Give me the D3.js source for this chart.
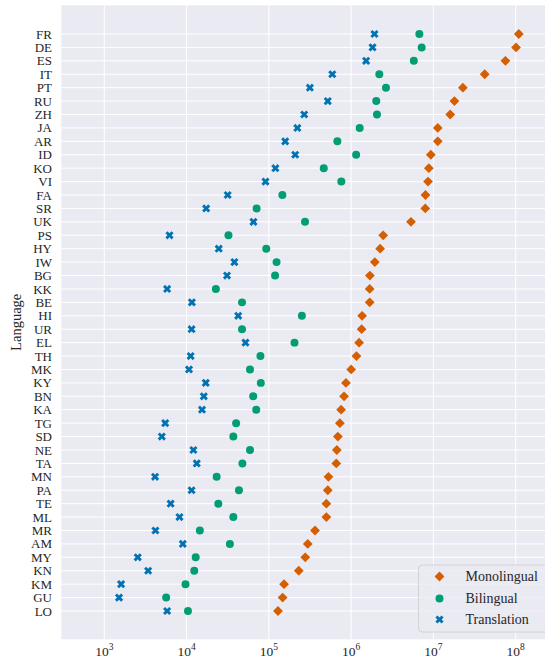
<!DOCTYPE html>
<html><head><meta charset="utf-8">
<script src="https://cdn.jsdelivr.net/npm/d3@7"></script>
<style>body{margin:0;background:#fff}svg{display:block}</style>
</head><body>
<script>
const languages = ["FR","DE","ES","IT","PT","RU","ZH","JA","AR","ID","KO","VI","FA","SR","UK","PS","HY","IW","BG","KK","BE","HI","UR","EL","TH","MK","KY","BN","KA","TG","SD","NE","TA","MN","PA","TE","ML","MR","AM","MY","KN","KM","GU","LO"];
const monolingual = [1.09e8,1.01e8,7.5e7,4.2e7,2.28e7,1.8e7,1.6e7,1.13e7,1.13e7,9.3e6,8.8e6,8.6e6,8.0e6,7.96e6,5.34e6,2.45e6,2.25e6,1.94e6,1.69e6,1.68e6,1.68e6,1.36e6,1.34e6,1.25e6,1.16e6,1.0e6,8.65e5,8.2e5,7.55e5,7.3e5,6.9e5,6.7e5,6.6e5,5.3e5,5.2e5,5.0e5,5.0e5,3.64e5,2.97e5,2.77e5,2.31e5,1.53e5,1.47e5,1.29e5];
const bilingual = [6.75e6,7.2e6,5.78e6,2.2e6,2.65e6,2.02e6,2.06e6,1.27e6,6.8e5,1.15e6,4.65e5,7.6e5,1.46e5,7.1e4,2.75e5,3.23e4,9.3e4,1.24e5,1.19e5,2.27e4,4.72e4,2.52e5,4.72e4,2.05e5,7.9e4,5.9e4,7.98e4,6.45e4,7.03e4,4.0e4,3.7e4,5.9e4,4.77e4,2.32e4,4.33e4,2.43e4,3.7e4,1.45e4,3.36e4,1.29e4,1.24e4,9.7e3,5.65e3,1.04e4];
const translation = [1.92e6,1.82e6,1.52e6,5.9e5,3.15e5,5.2e5,2.69e5,2.22e5,1.58e5,2.09e5,1.2e5,9.1e4,3.16e4,1.73e4,6.5e4,6.2e3,2.46e4,3.81e4,3.1e4,5.8e3,1.16e4,4.24e4,1.15e4,5.2e4,1.12e4,1.07e4,1.71e4,1.62e4,1.54e4,5.5e3,5.0e3,1.21e4,1.33e4,4.14e3,1.15e4,6.4e3,8.2e3,4.18e3,9.0e3,2.55e3,3.41e3,1.6e3,1.51e3,5.8e3];
const seriesNames = ["Monolingual","Bilingual","Translation"];
const seriesColors = ["#D55E00","#029E73","#0173B2"];
const xTickExps = [3,4,5,6,7,8];

const W = 545, H = 659;
const L = 61.3, R = 546, T = 5.3, B = 639.3;
const font = "'Liberation Serif','Times New Roman',serif";

const svg = d3.select("body").append("svg").attr("width", W).attr("height", H);

// x: 10^3 at 104.3, 10^8 at 515.7
const dec = (515.7 - 104.3) / 5;
const xMin = Math.pow(10, 3 - (104.3 - L) / dec);
const xMax = Math.pow(10, 8 + (R - 515.7) / dec);
const x = d3.scaleLog().domain([xMin, xMax]).range([L, R]);

// y: FR at 34, LO at 611
const y = d3.scalePoint().domain(languages).range([34, 611]);

svg.append("rect").attr("x", L).attr("y", T).attr("width", R - L).attr("height", B - T).attr("fill", "#EAEAF2");

const g = svg.append("g");
g.selectAll("line.hg").data(languages).join("line")
  .attr("x1", L).attr("x2", R).attr("y1", d => y(d)).attr("y2", d => y(d))
  .attr("stroke", "#fff").attr("stroke-width", 1);
g.selectAll("line.vg").data(xTickExps).join("line")
  .attr("y1", T).attr("y2", B).attr("x1", d => x(Math.pow(10, d))).attr("x2", d => x(Math.pow(10, d)))
  .attr("stroke", "#fff").attr("stroke-width", 1);

// y labels
svg.append("g").selectAll("text").data(languages).join("text")
  .attr("x", 52).attr("y", d => y(d)).attr("dy", "0.35em")
  .attr("text-anchor", "end").attr("font-family", font).attr("font-size", 13).attr("fill", "#262626")
  .text(d => d);

// x labels
const xt = svg.append("g").selectAll("text").data(xTickExps).join("text")
  .attr("x", d => x(Math.pow(10, d))).attr("y", 655.5)
  .attr("text-anchor", "middle").attr("font-family", font).attr("font-size", 13.5).attr("fill", "#262626");
xt.append("tspan").text("10");
xt.append("tspan").attr("dy", -6).attr("font-size", 9.5).text(d => d);

// y axis title
svg.append("text").attr("transform", `translate(20.5,${(T + B) / 2}) rotate(-90)`)
  .attr("text-anchor", "middle").attr("font-family", font).attr("font-size", 14.5).attr("fill", "#262626")
  .text("Language");

// markers
const diamond = d3.symbol().type(d3.symbolSquare).size(48);
const circle = d3.symbol().type(d3.symbolCircle).size(50);
const cross = d3.symbol().type(d3.symbolCross).size(42);
const shapes = [diamond, circle, cross];
const rots = [45, 0, 45];
const allSeries = [monolingual, bilingual, translation];

allSeries.forEach((vals, si) => {
  svg.append("g").selectAll("path").data(languages).join("path")
    .attr("d", shapes[si]())
    .attr("transform", (d, i) => `translate(${x(vals[i])},${y(d)}) rotate(${rots[si]})`)
    .attr("fill", seriesColors[si]);
});

// legend
const lg = svg.append("g");
lg.append("rect").attr("x", 418.5).attr("y", 565).attr("width", 135).attr("height", 67).attr("rx", 4)
  .attr("fill", "#EAEAF2").attr("fill-opacity", 0.8).attr("stroke", "#CCCCCC").attr("stroke-width", 0.8);
const ly = [576.5, 598.5, 619.5];
seriesNames.forEach((n, i) => {
  lg.append("path").attr("d", shapes[i]()).attr("transform", `translate(439.5,${ly[i]}) rotate(${rots[i]})`).attr("fill", seriesColors[i]);
  lg.append("text").attr("x", 465.5).attr("y", ly[i]).attr("dy", "0.35em")
    .attr("font-family", font).attr("font-size", 14).attr("fill", "#262626").text(n);
});
</script>
</body></html>
